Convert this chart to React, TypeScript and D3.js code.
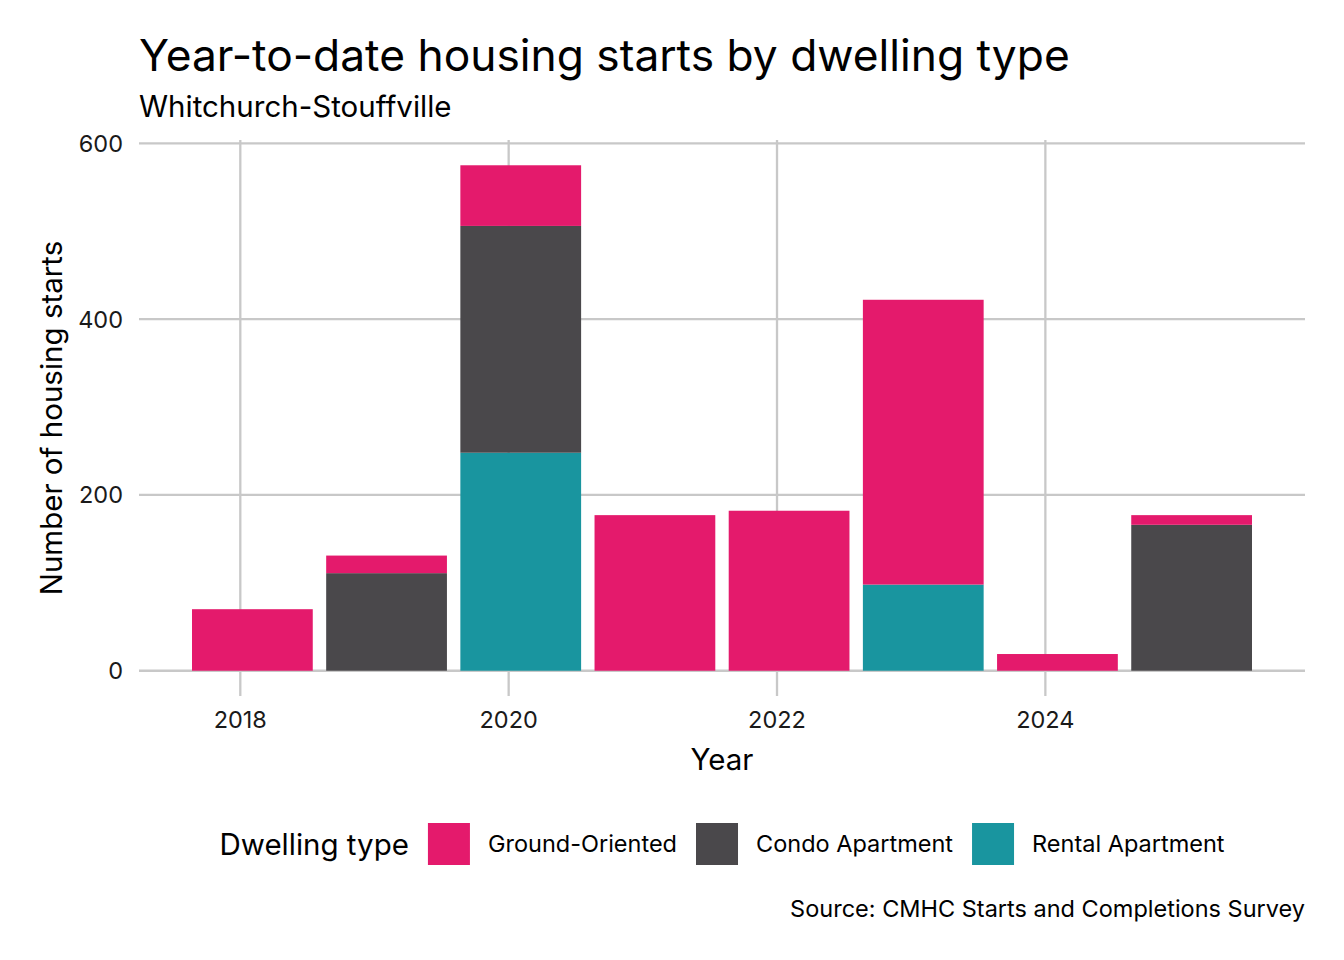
import { useEffect, useRef } from "react";
import * as d3 from "d3";

// year-to-date starts
const years = [2018, 2019, 2020, 2021, 2022, 2023, 2024, 2025];
const groundOriented = [70, 20, 69, 177, 182, 324, 19, 11];
const condoApartment = [0, 111, 258, 0, 0, 0, 0, 166];
const rentalApartment = [0, 0, 248, 0, 0, 98, 0, 0];

const dwellingTypes = ["Ground-Oriented", "Condo Apartment", "Rental Apartment"];
const typeColors = ["#E41A6C", "#4A484B", "#19959F"];
const xTicks = [2018, 2020, 2022, 2024];
const yTicks = [0, 200, 400, 600];

// bars sit a little after Jan 1 of each year (YTD reference date)
const yearOffset = 0.09;

const FONT = "Inter, 'Noto Sans', sans-serif";

export default function App() {
  const svgRef = useRef<SVGSVGElement | null>(null);

  useEffect(() => {
    if (!svgRef.current) {
      return;
    }
    const svg = d3.select(svgRef.current);
    svg.selectAll("*").remove();

    const width = 1344;
    const height = 960;
    const panel = { left: 139, right: 1305, top: 140, bottom: 696 };

    const rows = years.map((year, i) => ({
      year,
      "Rental Apartment": rentalApartment[i],
      "Condo Apartment": condoApartment[i],
      "Ground-Oriented": groundOriented[i],
    }));

    // stack bottom-up: rental, condo, ground
    const stackOrder = ["Rental Apartment", "Condo Apartment", "Ground-Oriented"];
    const series = d3.stack<(typeof rows)[number]>().keys(stackOrder)(rows);

    const color = d3.scaleOrdinal<string, string>().domain(dwellingTypes).range(typeColors);

    // ggplot-like expansion: 5% on each side of the data extent
    const barWidth = 0.9;
    const xMin = d3.min(years)! + yearOffset - barWidth / 2;
    const xMax = d3.max(years)! + yearOffset + barWidth / 2;
    const xPad = (xMax - xMin) * 0.05;
    const x = d3.scaleLinear().domain([xMin - xPad, xMax + xPad]).range([panel.left, panel.right]);

    const yTop = d3.max(rows, (r) => r["Rental Apartment"] + r["Condo Apartment"] + r["Ground-Oriented"])!;
    const yPad = yTop * 0.05;
    const y = d3.scaleLinear().domain([-yPad, yTop + yPad]).range([panel.bottom, panel.top]);

    svg.attr("viewBox", `0 0 ${width} ${height}`).attr("width", width).attr("height", height);
    svg.append("rect").attr("width", width).attr("height", height).attr("fill", "#ffffff");

    const grid = svg.append("g").attr("stroke", "#C8C8C8").attr("stroke-width", 2.3);
    grid
      .selectAll("line.h")
      .data(yTicks)
      .join("line")
      .attr("x1", panel.left)
      .attr("x2", panel.right)
      .attr("y1", (d) => y(d))
      .attr("y2", (d) => y(d));
    grid
      .selectAll("line.v")
      .data(xTicks)
      .join("line")
      .attr("x1", (d) => x(d))
      .attr("x2", (d) => x(d))
      .attr("y1", panel.top)
      .attr("y2", panel.bottom);

    const bw = x(barWidth) - x(0);
    svg
      .append("g")
      .selectAll("g")
      .data(series)
      .join("g")
      .attr("fill", (s) => color(s.key))
      .selectAll("rect")
      .data((s) => s.filter((d) => d[1] - d[0] > 0))
      .join("rect")
      .attr("x", (d) => x(d.data.year + yearOffset) - bw / 2)
      .attr("width", bw)
      .attr("y", (d) => y(d[1]))
      .attr("height", (d) => y(d[0]) - y(d[1]));

    // tick labels
    svg
      .append("g")
      .selectAll("text")
      .data(yTicks)
      .join("text")
      .attr("x", panel.left - 16)
      .attr("y", (d) => y(d))
      .attr("dy", "0.36em")
      .attr("text-anchor", "end")
      .attr("fill", "#1a1a1a")
      .style("font", `23.5px ${FONT}`)
      .text((d) => d);

    svg
      .append("g")
      .selectAll("text")
      .data(xTicks)
      .join("text")
      .attr("x", (d) => x(d))
      .attr("y", 728)
      .attr("text-anchor", "middle")
      .attr("fill", "#1a1a1a")
      .style("font", `23.5px ${FONT}`)
      .text((d) => d);

    // axis titles
    svg
      .append("text")
      .attr("x", (panel.left + panel.right) / 2)
      .attr("y", 770)
      .attr("text-anchor", "middle")
      .attr("fill", "#000")
      .style("font", `29.5px ${FONT}`)
      .text("Year");

    svg
      .append("text")
      .attr("transform", `translate(62,${(panel.top + panel.bottom) / 2}) rotate(-90)`)
      .attr("text-anchor", "middle")
      .attr("fill", "#000")
      .style("font", `29.5px ${FONT}`)
      .text("Number of housing starts");

    // title, subtitle, caption
    svg
      .append("text")
      .attr("x", panel.left)
      .attr("y", 71)
      .attr("fill", "#000")
      .style("font", `44.3px ${FONT}`)
      .text("Year-to-date housing starts by dwelling type");

    svg
      .append("text")
      .attr("x", panel.left)
      .attr("y", 117)
      .attr("fill", "#000")
      .style("font", `29.5px ${FONT}`)
      .text("Whitchurch-Stouffville");

    svg
      .append("text")
      .attr("x", panel.right)
      .attr("y", 917)
      .attr("text-anchor", "end")
      .attr("fill", "#000")
      .style("font", `23.5px ${FONT}`)
      .text("Source: CMHC Starts and Completions Survey");

    // legend, centred under the panel
    const legend = svg.append("g");
    const legendMid = 844;
    const keySize = 42;
    const legendTitle = legend
      .append("text")
      .attr("y", legendMid)
      .attr("dy", "0.36em")
      .attr("fill", "#000")
      .style("font", `29.5px ${FONT}`)
      .text("Dwelling type");

    let cursor = (legendTitle.node()?.getComputedTextLength() ?? 0) + 19;
    dwellingTypes.forEach((type, i) => {
      legend
        .append("rect")
        .attr("x", cursor)
        .attr("y", legendMid - keySize / 2)
        .attr("width", keySize)
        .attr("height", keySize)
        .attr("fill", color(type));
      cursor += keySize + 18;
      const label = legend
        .append("text")
        .attr("x", cursor)
        .attr("y", legendMid)
        .attr("dy", "0.36em")
        .attr("fill", "#000")
        .style("font", `23.5px ${FONT}`)
        .text(type);
      cursor += label.node()?.getComputedTextLength() ?? 0;
      if (i < dwellingTypes.length - 1) cursor += 19;
    });
    legend.attr("transform", `translate(${(panel.left + panel.right) / 2 - cursor / 2},0)`);
  }, []);

  return (
    <svg
      ref={svgRef}
      style={{ position: "absolute", left: 0, top: 0, display: "block" }}
    />
  );
}
